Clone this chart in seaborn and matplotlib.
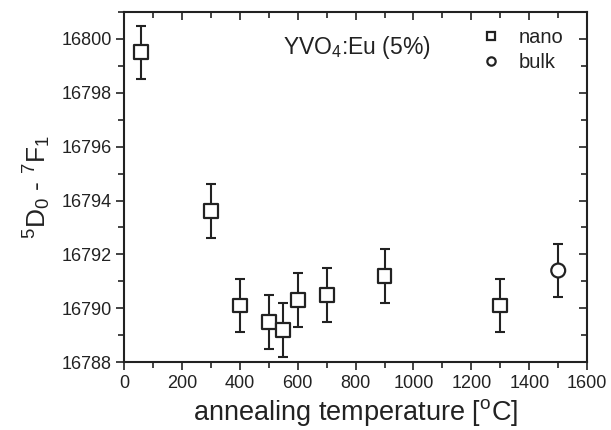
import numpy as np
import pandas as pd
import matplotlib
matplotlib.use("Agg")
import matplotlib.pyplot as plt
import seaborn as sns
from matplotlib.ticker import MultipleLocator

nano_temp = [60, 300, 400, 500, 550, 600, 700, 900, 1300]
nano_freq = [16799.5, 16793.6, 16790.1, 16789.5, 16789.2, 16790.3, 16790.5, 16791.2, 16790.1]
bulk_temp = [1500]
bulk_freq = [16791.4]
err = 1.0

df = pd.DataFrame({
    "temp": nano_temp + bulk_temp,
    "freq": nano_freq + bulk_freq,
    "type": ["nano"] * len(nano_temp) + ["bulk"] * len(bulk_temp),
})

sns.set_style("white")
plt.rcParams['font.family'] = ['Liberation Sans', 'DejaVu Sans']
plt.rcParams['mathtext.fontset'] = 'custom'
plt.rcParams['mathtext.rm'] = 'Liberation Sans'
plt.rcParams['mathtext.it'] = 'Liberation Sans'
plt.rcParams['text.color'] = '#222222'
plt.rcParams['axes.labelcolor'] = '#222222'
plt.rcParams['xtick.color'] = '#222222'
plt.rcParams['ytick.color'] = '#222222'

fig = plt.figure(figsize=(6.11, 4.3), dpi=100)
ax = fig.add_axes([0.203, 0.158, 0.758, 0.814])

ax.errorbar(df["temp"], df["freq"], yerr=err, fmt="none", ecolor="#222222",
            elinewidth=1.5, capsize=3.5, capthick=1.5, zorder=1)
sns.scatterplot(data=df, x="temp", y="freq", style="type", markers={"nano": "s", "bulk": "o"},
                s=100, facecolor="white", edgecolor="#222222", linewidth=1.6,
                legend=False, ax=ax, zorder=2)

# small legend markers like the original
ax.plot([], [], "s", ms=5.5, mfc="white", mec="#222222", mew=1.6, label="nano")
ax.plot([], [], "o", ms=6, mfc="white", mec="#222222", mew=1.6, label="bulk")
ax.legend(loc="upper right", frameon=False, fontsize=14.5, handlelength=1.0,
          handletextpad=0.9, labelspacing=0.3, borderaxespad=0.3,
          bbox_to_anchor=(0.98, 0.995))

ax.text(805, 16799.7, "YVO$_4$:Eu (5%)", fontsize=16.5, ha="center", va="center")

ax.set_xlim(0, 1600)
ax.set_ylim(16788, 16801)
ax.xaxis.set_major_locator(MultipleLocator(200))
ax.xaxis.set_minor_locator(MultipleLocator(100))
ax.yaxis.set_major_locator(MultipleLocator(2))
ax.yaxis.set_minor_locator(MultipleLocator(1))
ax.tick_params(which="both", direction="out", bottom=True, left=True,
               color="#222222", width=1.2)
ax.tick_params(which="major", length=6, labelsize=13, pad=3)
ax.tick_params(which="minor", length=4)

# inward ticks on top and right
axt = ax.secondary_xaxis("top")
axt.xaxis.set_major_locator(MultipleLocator(200))
axt.xaxis.set_minor_locator(MultipleLocator(100))
axt.tick_params(which="both", direction="in", top=True, labeltop=False, color="#222222", width=1.2)
axt.tick_params(which="major", length=6)
axt.tick_params(which="minor", length=4)
axr = ax.secondary_yaxis("right")
axr.yaxis.set_major_locator(MultipleLocator(2))
axr.yaxis.set_minor_locator(MultipleLocator(1))
axr.tick_params(which="both", direction="in", right=True, labelright=False, color="#222222", width=1.2)
axr.tick_params(which="major", length=6)
axr.tick_params(which="minor", length=4)
for a in (axt, axr):
    for sp in a.spines.values():
        sp.set_visible(False)

for sp in ax.spines.values():
    sp.set_linewidth(1.5)
    sp.set_color("#222222")

ax.set_xlabel("annealing temperature [$^\\mathrm{o}$C]", fontsize=19.5, labelpad=4)
ax.set_ylabel("$^5$D$_0$ - $^7$F$_1$", fontsize=19, labelpad=6)

fig.savefig("out.png", dpi=100)
